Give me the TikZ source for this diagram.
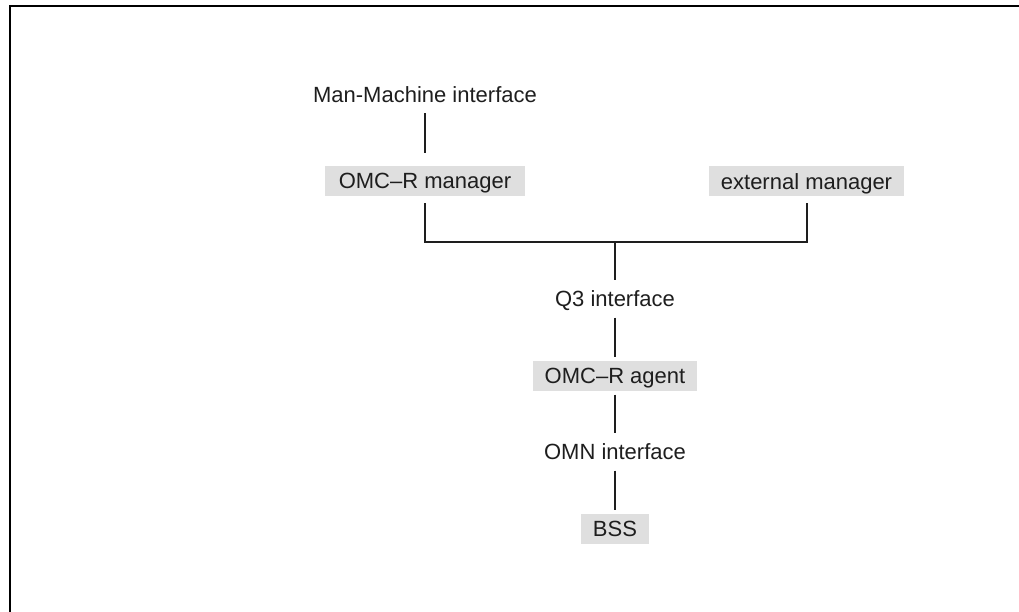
\documentclass[tikz,border=0pt]{standalone}
\usepackage{fontspec}
\setmainfont{Liberation Sans}
\definecolor{ink}{HTML}{1E1E1E}
\definecolor{boxgray}{HTML}{DFDFDF}
\begin{document}
\begin{tikzpicture}[x=1bp,y=-1bp,
  label text/.style={font=\fontsize{22bp}{26bp}\selectfont, text=ink,
    text height=15.8bp, text depth=0pt, inner ysep=7.1bp, inner xsep=12bp},
  unit box/.style={label text, fill=boxgray},
  link/.style={draw=ink, line width=2bp, shorten <=3.5bp, shorten >=3.5bp},
  bus line/.style={draw=ink, line width=2bp, line join=miter}]

  % canvas and frame
  \useasboundingbox (0,0) rectangle (1019,612);
  \draw[line width=2bp] (10,612) -- (10,6) -- (1019,6);

  % elements
  \node[label text] (mmi) at (425,94.5) {Man-Machine interface};
  \node[unit box, minimum width=200bp] (mgr) at (425,181) {OMC–R manager};
  \node[unit box, minimum width=195bp] (ext) at (806.5,181.5) {external manager};
  \coordinate (bus) at (615,242);
  \node[label text] (q3) at (615,299) {Q3 interface};
  \node[unit box, minimum width=164bp] (agent) at (615,376) {OMC–R agent};
  \node[label text] (omn) at (615,452) {OMN interface};
  \node[unit box, minimum width=66bp] (bss) at (615,529) {BSS};

  % connectors
  \draw[link, shorten >=13bp] (mmi) -- (mgr);
  \draw[bus line] ([yshift=-7bp]mgr.south) |- (bus) -| ([yshift=-6bp]ext.south);
  \draw[link, shorten <=0bp] (bus) -- (q3);
  \draw[link] (q3) -- (agent);
  \draw[link] (agent) -- (omn);
  \draw[link] (omn) -- (bss);
\end{tikzpicture}
\end{document}
